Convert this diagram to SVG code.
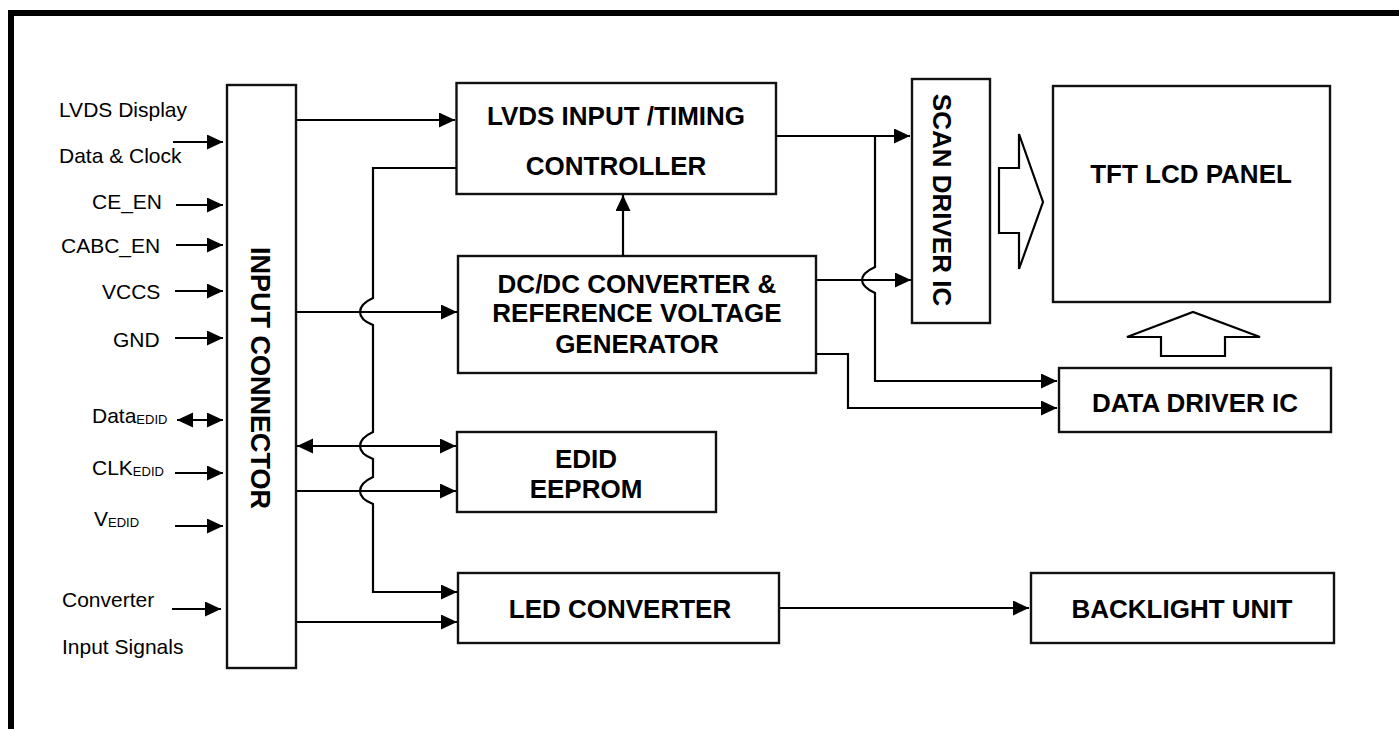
<svg xmlns="http://www.w3.org/2000/svg" width="1399" height="729" viewBox="0 0 1399 729">
<style>
.box{fill:#fff;stroke:#111;stroke-width:2.4}
.ln{fill:none;stroke:#000;stroke-width:2.2}
.lbl{font-family:"Liberation Sans",Arial,sans-serif;font-size:21px;fill:#000}
.sub{font-size:13px}
.bt{font-family:"Liberation Sans",Arial,sans-serif;font-size:26px;font-weight:bold;fill:#000;text-anchor:middle}
.hol{fill:#fff;stroke:#000;stroke-width:2.2;stroke-linejoin:miter}
</style>
<defs>
<marker id="ah" markerUnits="userSpaceOnUse" markerWidth="16" markerHeight="16" refX="16" refY="7.5" orient="auto-start-reverse">
<path d="M0,0 L16,7.5 L0,15 Z" fill="#000"/>
</marker>
</defs>
<rect x="0" y="0" width="1399" height="729" fill="#fff"/>
<path d="M11,729 V13 H1399" fill="none" stroke="#000" stroke-width="6"/>

<g id="input-labels">
<text class="lbl" x="59" y="117">LVDS Display</text>
<text class="lbl" x="59" y="163">Data &amp; Clock</text>
<text class="lbl" x="92" y="209">CE_EN</text>
<text class="lbl" x="61" y="253">CABC_EN</text>
<text class="lbl" x="102" y="299">VCCS</text>
<text class="lbl" x="113" y="347">GND</text>
<text class="lbl" x="92" y="423">Data<tspan class="sub" dy="1">EDID</tspan></text>
<text class="lbl" x="92" y="475">CLK<tspan class="sub" dy="1">EDID</tspan></text>
<text class="lbl" x="94" y="526">V<tspan class="sub" dy="1">EDID</tspan></text>
<text class="lbl" x="62" y="607">Converter</text>
<text class="lbl" x="62" y="654">Input Signals</text>
</g>

<g id="input-connector">
<rect class="box" x="227" y="85" width="69" height="583"/>
<text class="bt" style="font-size:27px" transform="translate(251,378) rotate(90)">INPUT CONNECTOR</text>
</g>

<g id="lvds-timing">
<rect class="box" x="456.5" y="83" width="319.5" height="111"/>
<text class="bt" x="616" y="125">LVDS INPUT /TIMING</text>
<text class="bt" x="616" y="175">CONTROLLER</text>
</g>

<g id="dcdc">
<rect class="box" x="458" y="256" width="358" height="117"/>
<text class="bt" x="637" y="293">DC/DC CONVERTER &amp;</text>
<text class="bt" x="637" y="322">REFERENCE VOLTAGE</text>
<text class="bt" x="637" y="353">GENERATOR</text>
</g>

<g id="edid">
<rect class="box" x="457" y="432" width="259" height="80"/>
<text class="bt" x="586" y="468">EDID</text>
<text class="bt" x="586" y="498">EEPROM</text>
</g>

<g id="led-converter">
<rect class="box" x="458" y="573" width="321" height="70"/>
<text class="bt" x="620" y="618">LED CONVERTER</text>
</g>

<g id="scan-driver">
<rect class="box" x="912" y="79" width="78" height="244"/>
<text class="bt" transform="translate(933,200) rotate(90)">SCAN DRIVER IC</text>
</g>

<g id="tft-panel">
<rect class="box" x="1053" y="86" width="277" height="216"/>
<text class="bt" x="1191" y="183">TFT LCD PANEL</text>
</g>

<g id="data-driver">
<rect class="box" x="1059" y="368" width="272" height="64"/>
<text class="bt" x="1195" y="412">DATA DRIVER IC</text>
</g>

<g id="backlight">
<rect class="box" x="1031" y="573" width="303" height="70"/>
<text class="bt" x="1182" y="618">BACKLIGHT UNIT</text>
</g>

<g id="connectors">
<!-- input arrows -->
<path class="ln" d="M173,142 H223" marker-end="url(#ah)"/>
<path class="ln" d="M176,205 H223" marker-end="url(#ah)"/>
<path class="ln" d="M176,245 H223" marker-end="url(#ah)"/>
<path class="ln" d="M175,291 H223" marker-end="url(#ah)"/>
<path class="ln" d="M175,338 H223" marker-end="url(#ah)"/>
<path class="ln" d="M177,420 H223" marker-start="url(#ah)" marker-end="url(#ah)"/>
<path class="ln" d="M175,473 H223" marker-end="url(#ah)"/>
<path class="ln" d="M175,526 H223" marker-end="url(#ah)"/>
<path class="ln" d="M172,609 H221" marker-end="url(#ah)"/>
<!-- connector to blocks -->
<path class="ln" d="M297,120 H455" marker-end="url(#ah)"/>
<path class="ln" d="M297,312 H457" marker-end="url(#ah)"/>
<path class="ln" d="M297,446 H456" marker-start="url(#ah)" marker-end="url(#ah)"/>
<path class="ln" d="M297,491 H456" marker-end="url(#ah)"/>
<path class="ln" d="M297,622 H457" marker-end="url(#ah)"/>
<!-- LVDS timing to LED converter, with hops -->
<path class="ln" d="M456,168 H373 V298 Q360,304 360,312 Q360,320 373,325 V432 Q360,438 360,446 Q360,454 373,459 V477 Q360,483 360,491 Q360,499 373,504 V592 H457" marker-end="url(#ah)"/>
<!-- DC/DC to LVDS timing -->
<path class="ln" d="M623,256 V195" marker-end="url(#ah)"/>
<!-- LVDS timing to scan driver -->
<path class="ln" d="M776,136 H910" marker-end="url(#ah)"/>
<!-- branch down to data driver with hop -->
<path class="ln" d="M875,136 V267 Q862,273 862,280 Q862,287 875,293 V381 H1057" marker-end="url(#ah)"/>
<!-- DC/DC to scan driver -->
<path class="ln" d="M816,280 H911" marker-end="url(#ah)"/>
<!-- DC/DC to data driver -->
<path class="ln" d="M816,354 H848 V408 H1057" marker-end="url(#ah)"/>
<!-- LED converter to backlight -->
<path class="ln" d="M779,608 H1029" marker-end="url(#ah)"/>
<!-- hollow arrows -->
<path class="hol" d="M999,168 H1019 V134 L1043,202 L1019,269 V233 H999 Z"/>
<path class="hol" d="M1161,356 V337 H1127 L1193,312 L1260,337 H1225 V356 Z"/>
</g>
</svg>
